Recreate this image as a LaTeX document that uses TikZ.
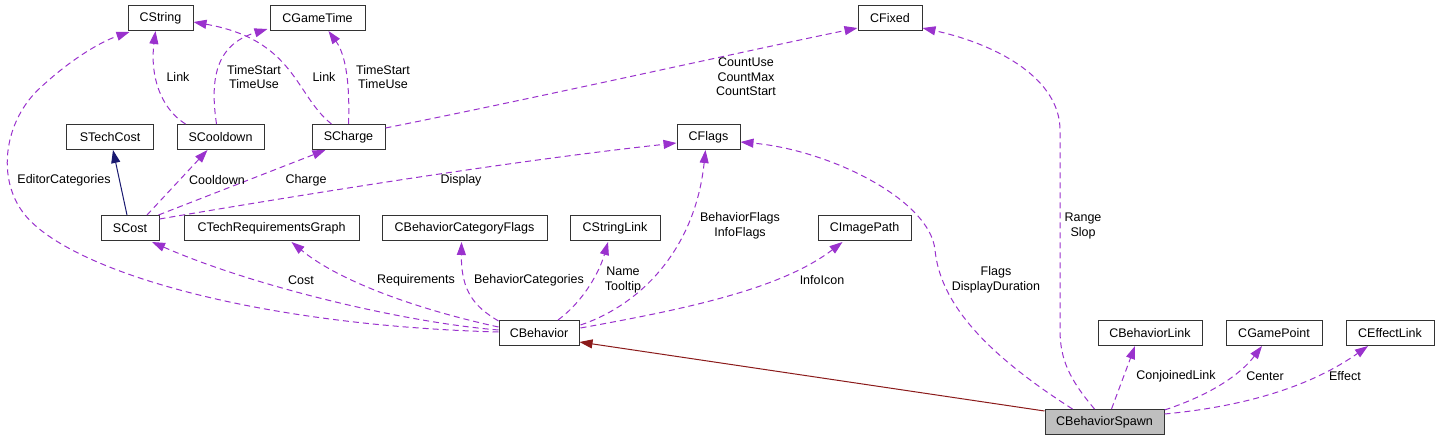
\documentclass[tikz,border=0pt]{standalone}
\usepackage{fontspec}
\setmainfont{Liberation Sans}
\definecolor{usepurple}{RGB}{154, 50, 205}
\definecolor{inhred}{RGB}{139, 26, 26}
\definecolor{inhblue}{RGB}{25, 25, 112}
\definecolor{spawngray}{RGB}{191, 191, 191}
\usetikzlibrary{arrows.meta, calc}
\tikzset{
  cls/.style={draw=black!80, line width=1pt, fill=white, minimum height=25pt, inner sep=0pt, font=\fontsize{12.5}{14.5}\selectfont},
  usage/.style={draw=usepurple, line width=1pt, dash pattern=on 6pt off 4pt, -{Triangle[length=13pt, width=9pt, fill=usepurple]}},
  inherit/.style={draw=#1, line width=1pt, -{Triangle[length=13pt, width=9pt, fill=#1]}},
  lbl/.style={align=center, inner sep=0pt, font=\fontsize{12.5}{14.5}\selectfont}
}

\begin{document}
\begin{tikzpicture}[x=1pt, y=-1pt]
  \useasboundingbox (0,0) rectangle (1440,441);

  % Classes, top row
  \node[cls, minimum width=65pt] (cstring) at (160.5,18) {CString};
  \node[cls, minimum width=95pt] (cgametime) at (317.5,18) {CGameTime};
  \node[cls, minimum width=64pt] (cfixed) at (890,18) {CFixed};

  % Second row
  \node[cls, minimum width=87pt] (stechcost) at (110,137) {STechCost};
  \node[cls, minimum width=87pt] (scooldown) at (220.5,137) {SCooldown};
  \node[cls, minimum width=73pt] (scharge) at (348.5,137) {SCharge};
  \node[cls, minimum width=63pt] (cflags) at (708.5,137) {CFlags};

  % Third row
  \node[cls, minimum width=58pt] (scost) at (130,228) {SCost};
  \node[cls, minimum width=175pt] (ctechreq) at (271.5,228) {CTechRequirementsGraph};
  \node[cls, minimum width=165pt] (ccatflags) at (464.5,228) {CBehaviorCategoryFlags};
  \node[cls, minimum width=90pt] (cstringlink) at (615,228) {CStringLink};
  \node[cls, minimum width=93pt] (cimagepath) at (864.5,228) {CImagePath};

  % Bottom rows
  \node[cls, minimum width=80pt] (cbehavior) at (539,333) {CBehavior};
  \node[cls, minimum width=104pt] (cbehaviorlink) at (1150,333) {CBehaviorLink};
  \node[cls, minimum width=96pt] (cgamepoint) at (1274,333) {CGamePoint};
  \node[cls, minimum width=88pt] (ceffectlink) at (1390,333) {CEffectLink};
  \node[cls, minimum width=119pt, fill=spawngray] (cspawn) at (1104.5,422) {CBehaviorSpawn};

  % SCost and its members
  \draw[inherit=inhblue] ($(scost.north)+(-3,0)$) -- ($(stechcost.south)+(3,0)$);
  \draw[usage] ($(scost.north)+(17,0)$) -- ($(scooldown.south)+(-13,0)$);
  \draw[usage] ($(scost.north east)+(-1,0)$) -- ($(scharge.south)+(-23,0)$);
  \draw[usage] ($(scost.north east)+(0,4)$) .. controls (330,190) and (520,160) .. ($(cflags.west)+(0,6)$);
  \node[lbl] (l-cooldown) at (217,180) {Cooldown};
  \node[lbl] (l-charge) at (306,180) {Charge};
  \node[lbl] (l-display) at (461,180) {Display};

  % SCooldown and SCharge members
  \draw[usage] ($(scooldown.north west)+(9,0)$) .. controls (160,108) and (150,75) .. ($(cstring.south)+(-5,0)$);
  \draw[usage] ($(scooldown.north)+(-4,0)$) .. controls (210,80) and (215,45) .. ($(cgametime.south west)+(-2,-2)$);
  \draw[usage] ($(scharge.north)+(-17,0)$) .. controls (295,95) and (295,40) .. ($(cstring.east)+(0,4)$);
  \draw[usage] ($(scharge.north)+(0,0)$) .. controls (350,85) and (346,55) .. ($(cgametime.south)+(11,0)$);
  \draw[usage] ($(scharge.east)+(0,-9)$) .. controls (550,95) and (750,50) .. ($(cfixed.west)+(0,10)$);
  \node[lbl] (l-link1) at (178,77) {Link};
  \node[lbl] (l-time1) at (254,77) {TimeStart\\TimeUse};
  \node[lbl] (l-link2) at (324,77) {Link};
  \node[lbl] (l-time2) at (383,77) {TimeStart\\TimeUse};
  \node[lbl] (l-count) at (746,77) {CountUse\\CountMax\\CountStart};

  % CBehavior members
  \draw[usage] ($(cbehavior.west)+(0,-1)$) .. controls (250,325) and (70,270) .. (25,215)
    .. controls (-5,178) and (5,120) .. (40,88) .. controls (70,60) and (100,42) .. ($(cstring.south west)+(2,1)$);
  \draw[usage] ($(cbehavior.west)+(0,-3)$) .. controls (400,322) and (250,285) .. ($(scost.south)+(22,1)$);
  \draw[usage] ($(cbehavior.west)+(0,-6)$) .. controls (420,310) and (340,282) .. ($(ctechreq.south)+(20,1)$);
  \draw[usage] ($(cbehavior.north west)+(0,1)$) .. controls (475,307) and (461,292) .. ($(ccatflags.south)+(-3,1)$);
  \draw[usage] ($(cbehavior.north)+(19,0)$) .. controls (585,300) and (600,270) .. ($(cstringlink.south)+(-7,1)$);
  \draw[usage] ($(cbehavior.north east)+(1,5)$) .. controls (640,305) and (695,250) .. ($(cflags.south)+(-3,0)$);
  \draw[usage] ($(cbehavior.north east)+(1,8)$) .. controls (680,310) and (780,290) .. ($(cimagepath.south)+(-22,1)$);
  \node[lbl] (l-editor) at (64,180) {EditorCategories};
  \node[lbl] (l-cost) at (301,280) {Cost};
  \node[lbl] (l-req) at (416,280) {Requirements};
  \node[lbl] (l-cat) at (529,280) {BehaviorCategories};
  \node[lbl] (l-name) at (623,280) {Name\\Tooltip};
  \node[lbl] (l-bflags) at (740,226) {BehaviorFlags\\InfoFlags};
  \node[lbl] (l-icon) at (822,280) {InfoIcon};

  % CBehaviorSpawn
  \draw[inherit=inhred] ($(cspawn.west)+(0,-11)$) -- ($(cbehavior.east)+(0,9)$);
  \draw[usage] ($(cspawn.north west)+(28,0)$) .. controls (980,350) and (940,300) .. (935,250)
    .. controls (930,200) and (830,150) .. ($(cflags.east)+(0,5)$);
  \draw[usage] ($(cspawn.north)+(-10,0)$) .. controls (1070,380) and (1060,360) .. (1060,330)
    -- (1060,130) .. controls (1060,80) and (1000,45) .. ($(cfixed.east)+(0,10)$);
  \draw[usage] ($(cspawn.north)+(7,0)$) -- ($(cbehaviorlink.south)+(-15,0)$);
  \draw[usage] ($(cspawn.north east)+(0,1)$) .. controls (1210,395) and (1240,375) .. ($(cgamepoint.south)+(-12,0)$);
  \draw[usage] ($(cspawn.east)+(0,-8)$) .. controls (1260,405) and (1320,380) .. ($(ceffectlink.south)+(-22,0)$);
  \node[lbl] (l-flags) at (996,280) {Flags\\DisplayDuration};
  \node[lbl] (l-range) at (1083,226) {Range\\Slop};
  \node[lbl] (l-conj) at (1176,376) {ConjoinedLink};
  \node[lbl] (l-center) at (1265,376) {Center};
  \node[lbl] (l-effect) at (1345,376) {Effect};
\end{tikzpicture}
\end{document}
